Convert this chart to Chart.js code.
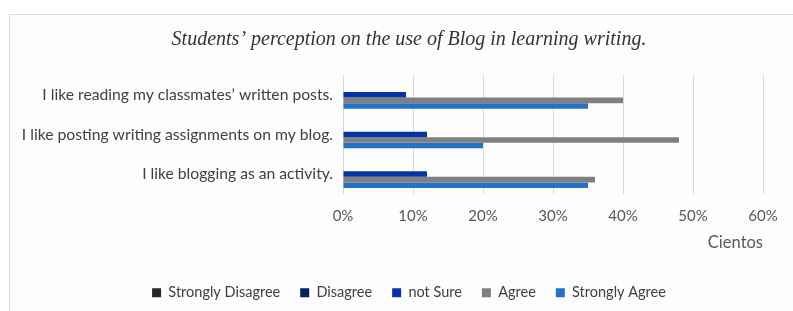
<!DOCTYPE html>
<html>
<head>
<meta charset="utf-8">
<script src="https://cdn.jsdelivr.net/npm/chart.js@4/dist/chart.umd.min.js"></script>
<style>
html,body{margin:0;padding:0;background:#fff;}
#wrap{position:relative;width:793px;height:311px;}
</style>
</head>
<body>
<div id="wrap"><canvas id="c" width="793" height="311"></canvas></div>
<script>
const titleText = "Students\u2019 perception on the use of Blog in learning writing.";
const categories = [
  "I like reading my classmates\u2019 written posts.",
  "I like posting writing assignments on my blog.",
  "I like blogging as an activity."
];
const seriesNames = ["Strongly Disagree", "Disagree", "not Sure", "Agree", "Strongly Agree"];
const stronglyDisagree = [0, 0, 0];
const disagree = [0, 0, 0];
const notSure = [0.09, 0.12, 0.12];
const agree = [0.40, 0.48, 0.36];
const stronglyAgree = [0.35, 0.20, 0.35];
const xTicks = [0, 0.1, 0.2, 0.3, 0.4, 0.5, 0.6];
const xAxisTitle = "Cientos";

const colors = ["#262626", "#002060", "#0433A8", "#808080", "#2272C8"];
const values = [stronglyDisagree, disagree, notSure, agree, stronglyAgree];

const borderPlugin = {
  id: 'frame',
  beforeDraw(chart) {
    const ctx = chart.ctx;
    ctx.save();
    ctx.fillStyle = '#fff';
    ctx.fillRect(0, 0, chart.width, chart.height);
    ctx.fillStyle = '#fdfdfd';
    ctx.fillRect(10, 14, chart.width, chart.height);
    ctx.strokeStyle = '#d9d9d9';
    ctx.lineWidth = 1;
    ctx.strokeRect(9.5, 14.5, chart.width + 10, chart.height + 10);
    ctx.restore();
  },
  afterLayout(chart) {
    // widen the label clip area of the category axis so long labels are not cut
    chart.scales.y.left = 0;
  }
};

new Chart(document.getElementById('c'), {
  type: 'bar',
  data: {
    labels: categories,
    datasets: seriesNames.map((n, i) => ({
      label: n,
      data: values[i],
      backgroundColor: colors[i],
      borderWidth: 0,
      categoryPercentage: 0.7,
      barPercentage: 1.0
    }))
  },
  options: {
    indexAxis: 'y',
    responsive: false,
    animation: false,
    devicePixelRatio: 1,
    layout: { padding: { top: 14, left: 55, right: 30, bottom: 1 } },
    plugins: {
      title: {
        display: true,
        text: titleText,
        color: '#333333',
        font: { family: 'Liberation Serif', style: 'italic', size: 20, weight: 'normal', lineHeight: 1.2 },
        padding: { top: 14, bottom: 23 }
      },
      legend: {
        position: 'bottom',
        labels: {
          boxWidth: 9, boxHeight: 9,
          color: '#404040',
          font: { family: 'Lato', size: 14.5 },
          padding: 20
        }
      },
      tooltip: { enabled: false }
    },
    scales: {
      x: {
        min: 0, max: 0.6,
        afterBuildTicks(scale) { scale.ticks = xTicks.map(v => ({ value: v })); },
        afterFit(scale) { scale.height = 71.6; },
        ticks: {
          callback: v => Math.round(v * 100) + '%',
          color: '#595959',
          font: { family: 'Lato', size: 15, lineHeight: 1.2 },
          padding: 13
        },
        grid: { color: '#d9d9d9', drawTicks: false },
        border: { display: false },
        title: {
          display: true, text: xAxisTitle, align: 'end',
          color: '#595959', font: { family: 'Lato', size: 16.5, lineHeight: 1.2 },
          padding: { top: 4, bottom: 12.7 }
        }
      },
      y: {
        afterFit(scale) { scale.width = 288; },
        ticks: { color: '#404040', font: { family: 'Lato', size: 15.7 }, padding: 10 },
        grid: { display: false, drawTicks: false },
        border: { display: false }
      }
    }
  },
  plugins: [borderPlugin]
});
</script>
</body>
</html>
